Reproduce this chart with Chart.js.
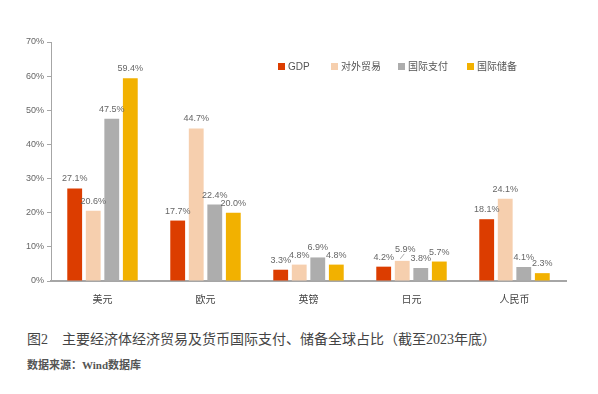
<!DOCTYPE html>
<html lang="zh">
<head>
<meta charset="UTF-8">
<script src="https://cdn.jsdelivr.net/npm/chart.js@4.4.0/dist/chart.umd.min.js"></script>
<title>主要经济体占比</title>
<style>
  body { margin: 0; background: #fff; }
  #wrap { position: relative; width: 598px; height: 394px; }
  #box { position: absolute; left: 0; top: 0; width: 598px; height: 310px; }
  .cap { position: absolute; left: 27px; font-family: "Liberation Serif", "Noto Sans CJK SC", serif; color: #444; white-space: nowrap; }
  #t1 { top: 328px; font-size: 14px; }
  #t2 { top: 356px; font-size: 11px; font-weight: bold; color: #555; }
</style>
</head>
<body>
<div id="wrap">
  <div id="box"><canvas id="c"></canvas></div>
  <div class="cap" id="t1">图2&nbsp;&nbsp;&nbsp;&nbsp;主要经济体经济贸易及货币国际支付、储备全球占比（截至2023年底）</div>
  <div class="cap" id="t2">数据来源：Wind数据库</div>
</div>
<script>
const categories = ['美元', '欧元', '英镑', '日元', '人民币'];
const seriesNames = ['GDP', '对外贸易', '国际支付', '国际储备'];
const gdp      = [27.1, 17.7, 3.3, 4.2, 18.1];
const trade    = [20.6, 44.7, 4.8, 5.9, 24.1];
const payments = [47.5, 22.4, 6.9, 3.8, 4.1];
const reserves = [59.4, 20.0, 4.8, 5.7, 2.3];
const colors = ['#dc3d00', '#f6cfae', '#adadad', '#f2b100'];

const tickFont = { family: '"Liberation Sans", "Noto Sans CJK SC", sans-serif', size: 9 };

// value labels above each bar
const valueLabels = {
  id: 'valueLabels',
  afterDatasetsDraw(chart) {
    const ctx = chart.ctx;
    ctx.save();
    ctx.font = '9px "Liberation Sans", sans-serif';
    ctx.fillStyle = '#666';
    ctx.textAlign = 'center';
    ctx.textBaseline = 'bottom';
    chart.data.datasets.forEach((ds, di) => {
      chart.getDatasetMeta(di).data.forEach((bar, i) => {
        let x = bar.x, y = bar.y - 5;
        if (di === 1 && i === 3) {
          // leader line for the crowded label
          ctx.strokeStyle = '#999';
          ctx.lineWidth = 0.8;
          ctx.beginPath();
          ctx.moveTo(bar.x - 2, bar.y - 2);
          ctx.lineTo(bar.x + 2, bar.y - 7);
          ctx.stroke();
          x = bar.x + 3; y = bar.y - 7;
        }
        ctx.fillText(ds.data[i].toFixed(1) + '%', x, y);
      });
    });
    ctx.restore();
  }
};

// legend drawn inside the plot
const inLegend = {
  id: 'inLegend',
  afterDraw(chart) {
    const ctx = chart.ctx;
    const xs = [278, 331, 398, 467];
    ctx.save();
    ctx.font = '10px "Liberation Sans", "Noto Sans CJK SC", sans-serif';
    ctx.textBaseline = 'middle';
    ctx.textAlign = 'left';
    chart.data.datasets.forEach((ds, di) => {
      ctx.fillStyle = ds.backgroundColor;
      ctx.fillRect(xs[di], 63, 7, 7);
      ctx.fillStyle = '#555';
      ctx.fillText(ds.label, xs[di] + 10, 67);
    });
    ctx.restore();
  }
};

const allSeries = [gdp, trade, payments, reserves];

new Chart(document.getElementById('c'), {
  type: 'bar',
  data: {
    labels: categories,
    datasets: allSeries.map((d, i) => ({
      label: seriesNames[i],
      data: d,
      backgroundColor: colors[i],
      barPercentage: 0.8,
      categoryPercentage: 0.72
    }))
  },
  options: {
    responsive: true,
    maintainAspectRatio: false,
    animation: false,
    layout: { padding: { left: 0, right: 32, top: 42, bottom: 0 } },
    plugins: { legend: { display: false }, tooltip: { enabled: false } },
    scales: {
      x: {
        grid: { display: false },
        border: { display: true, color: '#a6a6a6', width: 2 },
        ticks: { color: '#444', font: { ...tickFont, size: 10 }, padding: 5 },
        afterFit(s) { s.height = 29; }
      },
      y: {
        min: 0, max: 70,
        grid: { display: true, drawOnChartArea: false, drawTicks: true, tickLength: 4, color: '#a6a6a6' },
        border: { display: true, color: '#a6a6a6', width: 1 },
        ticks: { stepSize: 10, color: '#666', font: tickFont, padding: 3, callback: v => v + '%' },
        afterFit(s) { s.width = 51; }
      }
    }
  },
  plugins: [valueLabels, inLegend]
});
</script>
</body>
</html>
